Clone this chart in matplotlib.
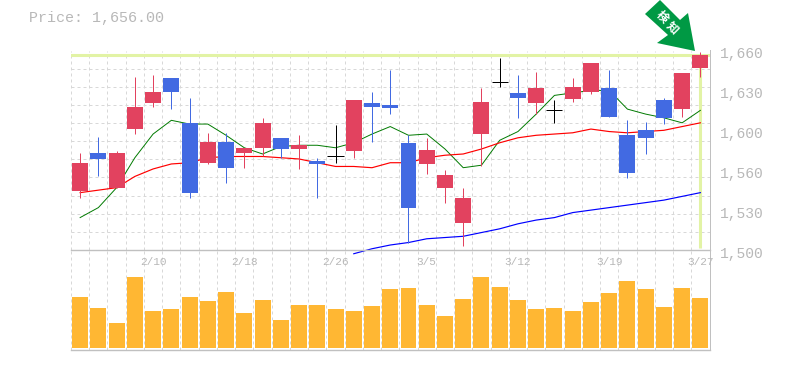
import numpy as np
import matplotlib
matplotlib.use("Agg")
import matplotlib.pyplot as plt
from matplotlib.patches import Polygon

# candle values
highs = [1578, 1591, 1579, 1639, 1640, 1638, 1622, 1594, 1594, 1582, 1606, 1590,
         1592, 1574, 1600, 1620, 1627, 1644, 1592, 1590, 1564, 1550, 1630, 1654,
         1640, 1643, 1620, 1638, 1650, 1644, 1604, 1603, 1622, 1642, 1659]
lows = [1542, 1559, 1550, 1593, 1615, 1613, 1542, 1569, 1554, 1566, 1575, 1574,
        1565, 1542, 1570, 1574, 1587, 1609, 1506, 1561, 1538, 1503, 1567, 1631,
        1606, 1609, 1602, 1619, 1625, 1607, 1558, 1577, 1601, 1607, 1639]
opens = [1547, 1578, 1550, 1597, 1618, 1638, 1602, 1570, 1587, 1578, 1582, 1590,
         1581, 1571, 1575, 1579, 1618, 1616, 1586, 1569, 1550, 1522, 1593, 1635,
         1626, 1618, 1612, 1621, 1627, 1630, 1592, 1596, 1620, 1613, 1646]
closes = [1570, 1573, 1578, 1615, 1627, 1627, 1546, 1587, 1566, 1582, 1602, 1581,
          1584, 1569, 1575, 1620, 1615, 1614, 1534, 1580, 1560, 1542, 1619, 1635,
          1622, 1630, 1612, 1631, 1650, 1607, 1562, 1590, 1606, 1642, 1656]
ma_short = [1526, 1534, 1550, 1574, 1593, 1604, 1601, 1601, 1592, 1582, 1577, 1583,
            1584, 1584, 1582, 1586, 1593, 1599, 1592, 1593, 1581, 1566, 1568, 1588,
            1595, 1609, 1624, 1626, 1628, 1628, 1613, 1609, 1606, 1602, 1612]
ma_mid = [1546, 1548, 1550, 1559, 1565, 1569, 1570, 1574, 1575, 1575, 1575, 1574,
          1573, 1570, 1567, 1567, 1566, 1570, 1570, 1574, 1576, 1577, 1581, 1586,
          1590, 1592, 1593, 1594, 1597, 1595, 1594, 1595, 1596, 1599, 1602]
ma_long = [1497, 1501, 1504, 1506, 1509, 1510, 1511, 1514, 1517, 1521, 1524, 1526,
           1530, 1532, 1534, 1536, 1538, 1540, 1543, 1546]
volumes = [51, 40, 25, 71, 37, 39, 51, 47, 56, 35, 48, 28, 43, 43, 39, 37, 42, 59,
           60, 43, 32, 49, 71, 61, 48, 39, 40, 37, 46, 55, 67, 59, 41, 60, 50]
date_pos = [4, 9, 14, 19, 24, 29, 34]
date_labels = ["2/10", "2/18", "2/26", "3/5", "3/12", "3/19", "3/27"]
price_ticks = [1660, 1628, 1596, 1564, 1532, 1500]
price_labels = ["1,660", "1,630", "1,600", "1,560", "1,530", "1,500"]
last_price = 1656

UP = "#e2425f"
DOWN = "#426ae2"
FLAT = "#000000"
HILITE = "#e2f3a5"
GRID = "#d8d8d8"
FRAME = "#c0c0c0"
TEXT = "#b8b8b8"
MONO = "Liberation Mono"
PX = 0.72  # one pixel in points

W, H = 785, 370
fig = plt.figure(figsize=(W / 100, H / 100), dpi=100)


def axes_px(x0, y0, x1, y1):
    return fig.add_axes([x0 / W, 1 - y1 / H, (x1 - x0) / W, (y1 - y0) / H])


vax = axes_px(71, 250, 709.5, 350)
ax = axes_px(71, 50.5, 709.5, 250)

n = len(closes)
days = np.arange(n)

for a in (ax, vax):
    a.patch.set_visible(False)
    a.set_xlim(-0.5, n - 0.5)
    a.set_xticks(np.arange(n + 1) - 0.5)
    a.tick_params(length=0, labelbottom=False, labelleft=False)
    a.set_axisbelow(True)
    a.grid(axis="x", color=GRID, lw=PX, ls=(0, (3, 3)))
    for s in a.spines.values():
        s.set_visible(False)
    a.spines["right"].set_visible(True)
    a.spines["right"].set_color(FRAME)
    a.spines["right"].set_linewidth(PX)
    a.spines["bottom"].set_visible(True)
    a.spines["bottom"].set_color(FRAME)
    a.spines["bottom"].set_linewidth(1.0)

ax.set_ylim(1500, 1660)
ax.set_yticks(np.linspace(1500, 1660, 12))
ax.grid(axis="y", color=GRID, lw=PX, ls=(0, (3, 3)))

# highlight of the last close / last day
ax.axhline(last_price, color=HILITE, lw=2.2, zorder=1)
ax.vlines(days[-1], 1502, last_price, color=HILITE, lw=2.2, zorder=1)

# moving averages sit under the candles
ax.plot(days, ma_short, color="#007a00", lw=0.7, zorder=2)
ax.plot(days, ma_mid, color="#ff0000", lw=0.85, zorder=2)
ax.plot(days[-len(ma_long):], ma_long, color="#0000ff", lw=0.85, zorder=2, clip_on=False)

for i in range(n):
    if closes[i] > opens[i]:
        col = UP
    elif closes[i] < opens[i]:
        col = DOWN
    else:
        col = FLAT
    ax.vlines(i, lows[i], highs[i], color=col, lw=PX, zorder=3, clip_on=False)
    if col == FLAT:
        ax.hlines(opens[i], i - 0.44, i + 0.44, color=col, lw=PX, zorder=3)
    else:
        ax.bar(i, abs(closes[i] - opens[i]), bottom=min(opens[i], closes[i]),
               width=0.875, color=col, zorder=3)

vax.set_ylim(-2, 98)
vax.bar(days, volumes, width=0.875, color="#ffb733", zorder=3)

# date labels sit inside the top of the volume panel
for p, lab in zip(date_pos, date_labels):
    vax.text(p, 86, lab, ha="center", va="center", fontsize=8, family=MONO,
             color=TEXT, clip_on=False, zorder=4)

for v, lab in zip(price_ticks, price_labels):
    ax.annotate(lab, (1, v), xycoords=("axes fraction", "data"), xytext=(10, -4),
                textcoords="offset pixels", ha="left", va="center",
                fontsize=10.5, family=MONO, color=TEXT)

fig.text(29 / W, 1 - 18 / H, "Price: " + format(last_price, ",.2f"), fontsize=10.8,
         family=MONO, color=TEXT, ha="left", va="center")

# green marker arrow pointing at the last candle, in picture pixels
arrow_px = [(660, 0), (645, 14), (668, 35), (657, 43), (695, 51), (688, 13), (680, 20)]
arrow_xy = [(x, H - y) for x, y in arrow_px]
fig.add_artist(Polygon(arrow_xy, closed=True, fc="#009944", ec="none", transform=None))
for ch, cx, cy in [("検", 662, 17), ("知", 672, 28)]:
    fig.text(cx / W, 1 - cy / H, ch, fontsize=8.5, color="white", rotation=-45,
             rotation_mode="anchor", ha="center", va="center", weight="bold",
             family=["Noto Sans CJK JP", "DejaVu Sans"])

fig.savefig("out.png", dpi=100)
